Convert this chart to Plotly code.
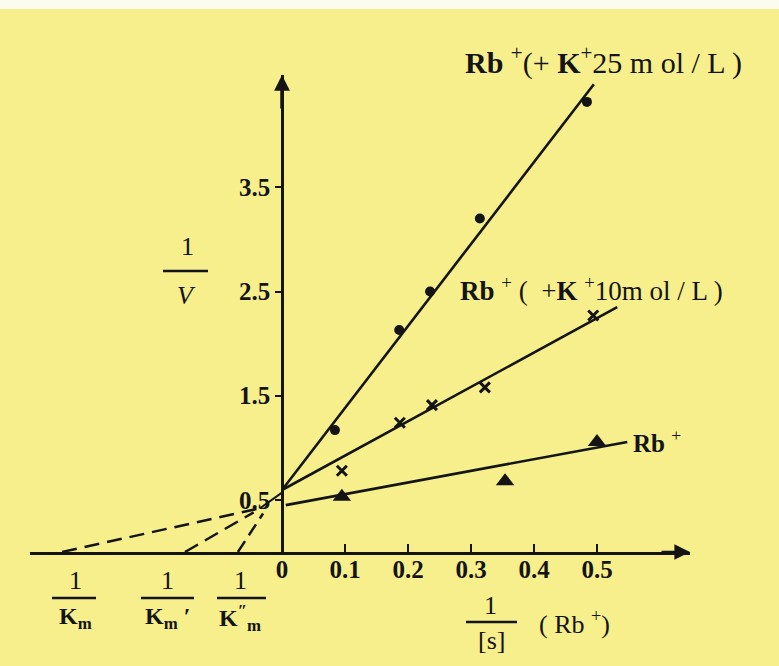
import plotly.graph_objects as go

# 1/[S] (x) and 1/V (y)
x_25 = [0.084, 0.186, 0.235, 0.314, 0.484]
y_25 = [1.17, 2.13, 2.50, 3.20, 4.32]
x_10 = [0.095, 0.187, 0.238, 0.322, 0.494]
y_10 = [0.78, 1.24, 1.41, 1.58, 2.27]
x_rb = [0.095, 0.354, 0.500]
y_rb = [0.53, 0.68, 1.056]

# fitted straight lines (solid) and their extrapolations (dashed)
fit_x_25 = [0.0, 0.495]
fit_y_25 = [0.595, 4.49]
fit_x_10 = [0.0, 0.532]
fit_y_10 = [0.595, 2.35]
fit_x_rb = [0.006, 0.548]
fit_y_rb = [0.45, 1.056]

ext_x_rb = [-0.349, -0.035]
ext_y_rb = [0.0, 0.42]
ext_x_10 = [-0.154, -0.045]
ext_y_10 = [0.0, 0.38]
ext_x_25 = [-0.070, -0.030]
ext_y_25 = [0.0, 0.37]
join_x = [-0.035, 0.0]
join_y = [0.42, 0.57]

x_ticks = [0, 0.1, 0.2, 0.3, 0.4, 0.5]
x_ticktext = ["0", "0.1", "0.2", "0.3", "0.4", "0.5"]
y_ticks = [0.5, 1.5, 2.5, 3.5]
y_ticktext = ["0.5", "1.5", "2.5", "3.5"]

INK = "#141414"
BG = "#f6ef8c"
SERIF = "Liberation Serif, Times New Roman, serif"

fig = go.Figure()


def line(xs, ys, dash="solid", width=2.6):
    fig.add_trace(go.Scatter(x=xs, y=ys, mode="lines", cliponaxis=False,
                             line=dict(color=INK, width=width, dash=dash),
                             hoverinfo="skip", showlegend=False))


line(fit_x_25, fit_y_25)
line(fit_x_10, fit_y_10)
line(fit_x_rb, fit_y_rb)
line(ext_x_rb, ext_y_rb, dash="15px,8px", width=2.5)
line(ext_x_10, ext_y_10, dash="15px,8px", width=2.5)
line(ext_x_25, ext_y_25, dash="13px,7px", width=2.5)
line(join_x, join_y, width=2.0)

fig.add_trace(go.Scatter(x=x_25, y=y_25, mode="markers", cliponaxis=False, showlegend=False,
                         marker=dict(symbol="circle", size=10, color=INK)))
fig.add_trace(go.Scatter(x=x_10, y=y_10, mode="markers", cliponaxis=False, showlegend=False,
                         marker=dict(symbol="x-thin", size=10, color=INK,
                                     line=dict(color=INK, width=3))))
fig.add_trace(go.Scatter(x=x_rb, y=y_rb, mode="markers", cliponaxis=False, showlegend=False,
                         marker=dict(symbol="triangle-up", size=16, color=INK)))

# plot area: x axis at pixel y=552, from px 30 to 690; y axis at px x=282, up to px 75
L, R, T, B = 30, 89, 75, 114
PW, PH = 779 - L - R, 666 - T - B


def px(xp):
    return (xp - L) / PW


def py(yp):
    return (666 - B - yp) / PH


ann = []
shapes = []


def txt(xp, yp, s, size=26, bold=False, italic=False, xanchor="center"):
    if bold:
        s = "<b>" + s + "</b>"
    if italic:
        s = "<i>" + s + "</i>"
    ann.append(dict(x=px(xp), y=py(yp), xref="paper", yref="paper", text=s,
                    showarrow=False, xanchor=xanchor, yanchor="middle",
                    font=dict(family=SERIF, size=size, color=INK)))


def bar(x0, x1, yp):
    shapes.append(dict(type="line", xref="paper", yref="paper",
                       x0=px(x0), x1=px(x1), y0=py(yp), y1=py(yp),
                       line=dict(color=INK, width=2.4)))


# series labels
txt(463, 60, "<b>Rb</b> <sup>+</sup>(+ <b>K</b><sup>+</sup>25 m ol / L )", size=30, xanchor="left")
txt(458, 289, "<b>Rb</b> <sup>+</sup> (  +<b>K</b> <sup>+</sup>10m ol / L )", size=27, xanchor="left")
txt(631, 441, "<b>Rb</b> <sup>+</sup>", size=25, xanchor="left")

# y axis title 1/V
txt(187, 246, "1", size=26)
bar(163, 208, 271)
txt(186, 295, "V", size=26, italic=True)

# x axis title 1/[s] (Rb+)
txt(490, 605, "1", size=26)
bar(466, 517, 622)
txt(491, 640, "[s]", size=26)
txt(537, 622, "( Rb <sup>+</sup>)", size=26, xanchor="left")

# -1/Km intercept labels
for xc, x0, x1, lab in [(75, 52, 96, "K<sub>m</sub>"),
                        (167, 141, 194, "K<sub>m</sub> ′"),
                        (240, 217, 266, "K<sup>″</sup><sub>m</sub>")]:
    txt(xc, 580, "1", size=26)
    bar(x0, x1, 598)
    txt(xc, 618, lab, size=24, bold=True)

# axis arrowheads
ann.append(dict(x=px(690), y=py(552), xref="paper", yref="paper", text="",
                showarrow=True, ax=-30, ay=0, arrowhead=2, arrowsize=1.2,
                arrowwidth=2.6, arrowcolor=INK))
ann.append(dict(x=px(282), y=py(75), xref="paper", yref="paper", text="",
                showarrow=True, ax=0, ay=35, arrowhead=2, arrowsize=0.9,
                arrowwidth=3.5, arrowcolor=INK))

# thin white strip of the scan at the top edge
shapes.append(dict(type="rect", xref="paper", yref="paper", x0=px(0), x1=px(779),
                   y0=py(9), y1=py(0), fillcolor="#fbfbf0", line=dict(width=0), layer="below"))

fig.update_layout(
    width=779, height=666,
    margin=dict(l=L, r=R, t=T, b=B),
    paper_bgcolor=BG, plot_bgcolor=BG,
    showlegend=False,
    annotations=ann, shapes=shapes,
    xaxis=dict(range=[-0.4, 0.6476], tickvals=x_ticks, ticktext=x_ticktext,
               showline=True, linecolor=INK, linewidth=2.6, ticks="inside", ticklen=8,
               tickwidth=2.2, tickcolor=INK, showgrid=False, zeroline=False,
               ticklabelstandoff=-7,
               tickfont=dict(family=SERIF, size=25, color=INK, weight="bold"), fixedrange=True),
    yaxis=dict(range=[0, 4.578], tickvals=y_ticks, ticktext=y_ticktext,
               anchor="free", position=px(282), showline=True, linecolor=INK,
               linewidth=2.6, ticks="outside", ticklen=6, tickwidth=2.2, tickcolor=INK,
               showgrid=False, zeroline=False,
               tickfont=dict(family=SERIF, size=25, color=INK, weight="bold"), fixedrange=True),
)

fig.write_html("out.html", config={"displayModeBar": False},
               post_script="document.body.style.margin='0';")
